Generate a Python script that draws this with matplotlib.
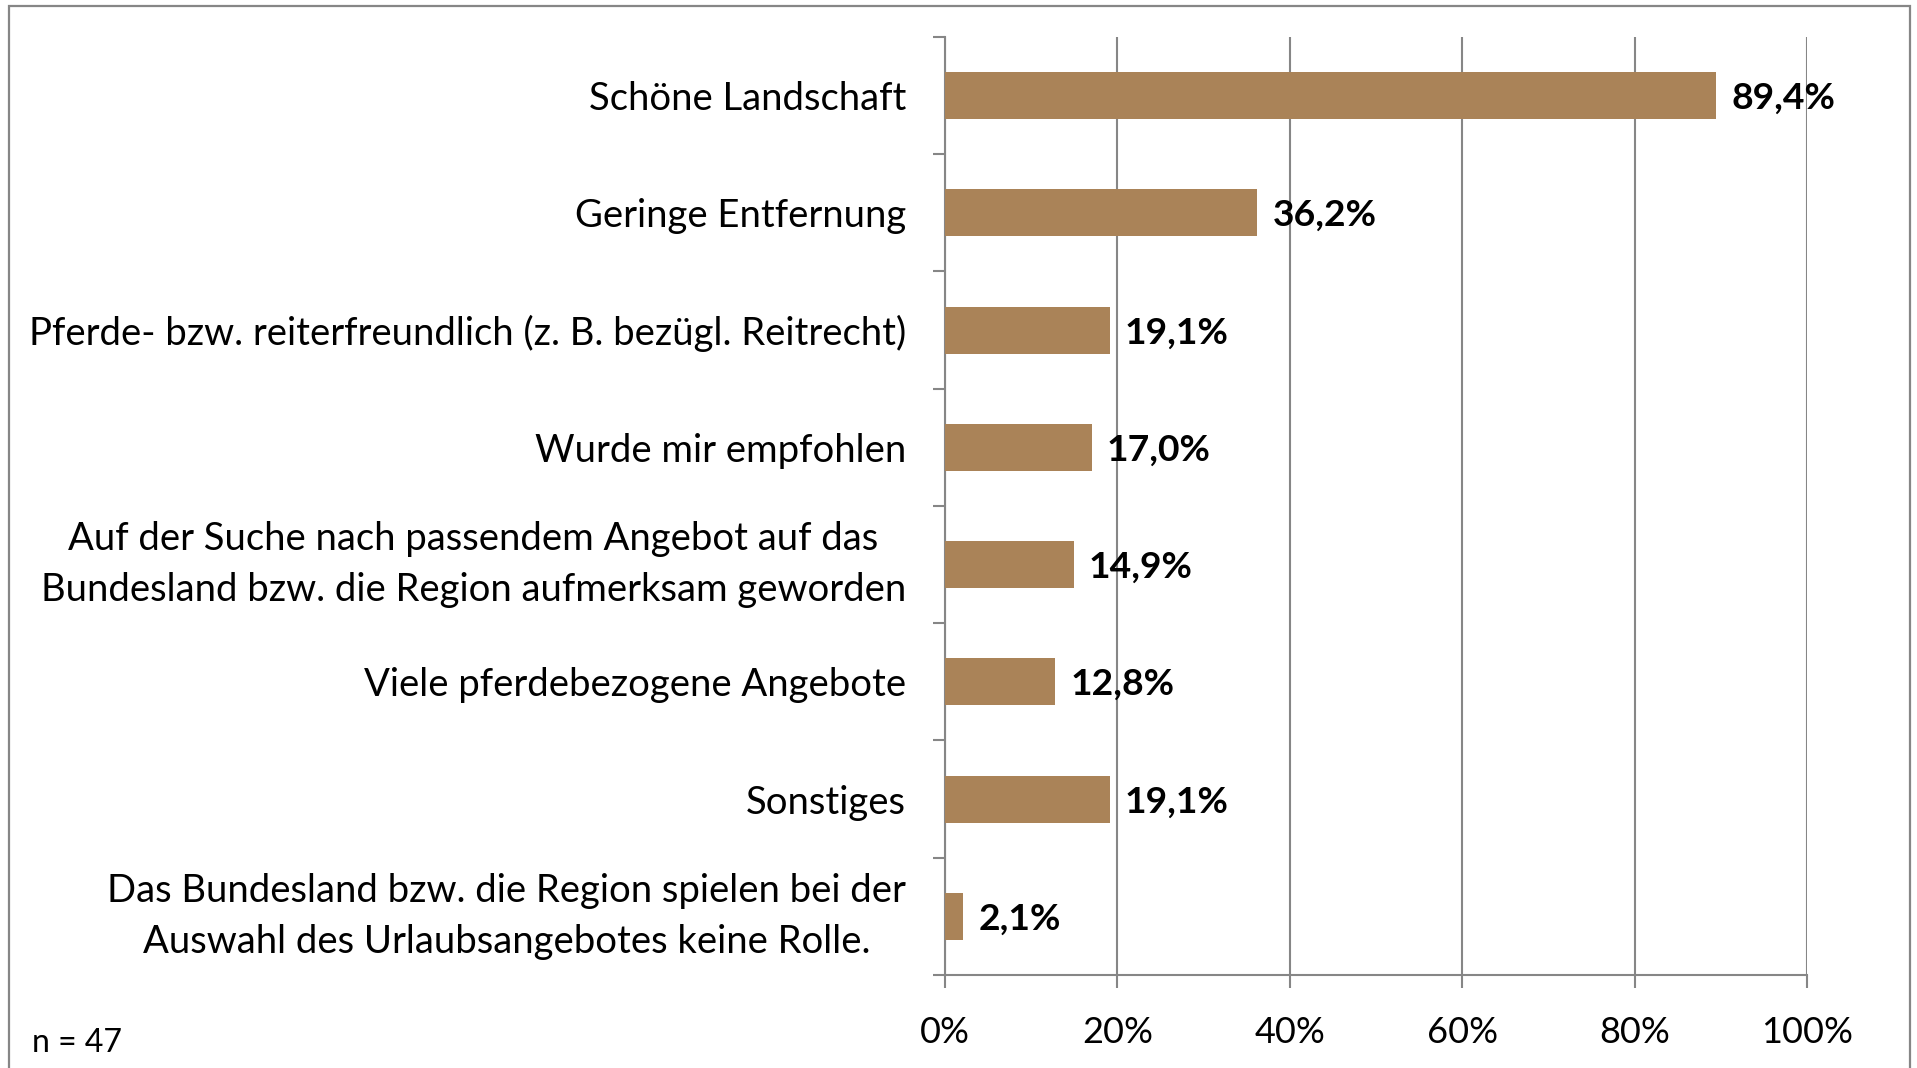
import numpy as np
import matplotlib.pyplot as plt
from matplotlib.patches import Rectangle
from matplotlib.ticker import FixedLocator, PercentFormatter

# Data (top to bottom as in the chart)
categories = [
    "Schöne Landschaft",
    "Geringe Entfernung",
    "Pferde- bzw. reiterfreundlich (z. B. bezügl. Reitrecht)",
    "Wurde mir empfohlen",
    "Auf der Suche nach passendem Angebot auf das\nBundesland bzw. die Region aufmerksam geworden",
    "Viele pferdebezogene Angebote",
    "Sonstiges",
    "Das Bundesland bzw. die Region spielen bei der\nAuswahl des Urlaubsangebotes keine Rolle.",
]
values = [89.4, 36.2, 19.1, 17.0, 14.9, 12.8, 19.1, 2.1]
x_ticks = [0, 20, 40, 60, 80, 100]
sample_note = "n = 47"

bar_color = "#AA8358"
grey = "#868686"

plt.rcParams["font.family"] = ["Lato", "DejaVu Sans"]

fig = plt.figure(figsize=(19.17, 10.68), dpi=100)
ax = fig.add_axes([0.493, 0.0871, 0.4497, 0.8783])

y = np.arange(len(categories))
ax.barh(y, values, height=0.4, color=bar_color, zorder=3)

# value labels
for yi, v in zip(y, values):
    ax.annotate(f"{v:.1f}%".replace(".", ","), (v, yi), xytext=(11, -2),
                textcoords="offset points", ha="left", va="center",
                fontsize=26.8, fontweight="bold", color="black")

ax.set_xlim(0, 100)
ax.set_ylim(len(categories) - 0.5, -0.5)

ax.xaxis.set_major_locator(FixedLocator(x_ticks))
ax.xaxis.set_major_formatter(PercentFormatter(decimals=0))
ax.tick_params(axis="x", direction="out", length=9.5, width=1.5, color=grey,
               labelsize=26, pad=20)
ax.grid(axis="x", color=grey, linewidth=1.5, zorder=0)

# y: labels at centers, ticks at category boundaries
ax.set_yticks(y)
ax.set_yticklabels(categories, fontsize=27.5, multialignment="center", linespacing=1.5)
for lbl in ax.get_yticklabels():
    if "\n" in lbl.get_text():
        lbl.set_verticalalignment("center")
ax.tick_params(axis="y", which="major", length=0, pad=28)
ax.yaxis.set_minor_locator(FixedLocator(np.arange(-0.5, len(categories), 1.0)))
ax.tick_params(axis="y", which="minor", direction="out", length=9, width=1.5, color=grey)

for side in ["top", "right"]:
    ax.spines[side].set_visible(False)
for side in ["left", "bottom"]:
    ax.spines[side].set_color(grey)
    ax.spines[side].set_linewidth(1.5)

fig.text(32 / 1917, 1 - 1043 / 1068, sample_note, fontsize=23, ha="left", va="center")

# outer chart frame
fig.patches.append(Rectangle((9 / 1917, -0.02), (1910 - 9) / 1917, 1.02 - 6 / 1068,
                             transform=fig.transFigure, fill=False,
                             edgecolor=grey, linewidth=1.6))

fig.savefig("out.png", dpi=100)
